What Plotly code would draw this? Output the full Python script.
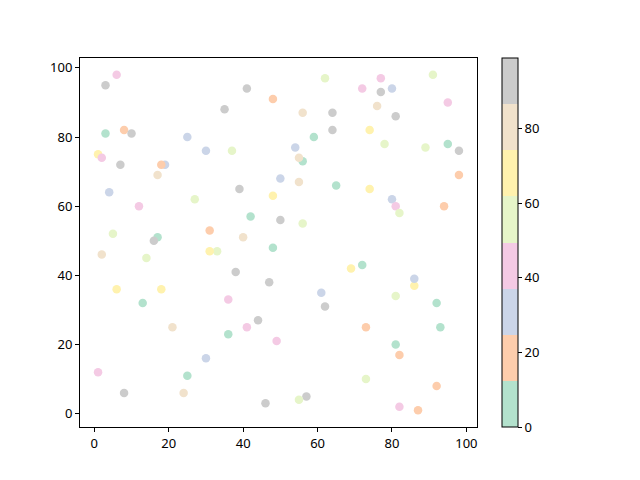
import plotly.graph_objects as go

# data: x, y, colour value (0-99 scale, Pastel2 in 8 bins)
x_vals = [3, 6, 3, 8, 10, 1, 2, 7, 4, 12, 17, 19, 18, 25, 30, 27, 35, 41, 48, 37,
          39, 42, 48, 5, 2, 17, 16, 14, 6, 18, 13, 21, 1, 8, 24, 25, 31, 33, 31, 40,
          38, 36, 36, 41, 44, 47, 48, 49, 30, 46, 50, 50, 54, 56, 55, 55, 56, 59, 56, 62,
          64, 64, 65, 72, 77, 77, 80, 76, 81, 74, 78, 74, 80, 81, 82, 89, 91, 95, 95, 98,
          98, 94, 72, 69, 61, 62, 73, 57, 55, 73, 81, 81, 82, 82, 86, 86, 87, 92, 93, 92]
y_vals = [95, 98, 81, 82, 81, 75, 74, 72, 64, 60, 69, 72, 72, 80, 76, 62, 88, 94, 91, 76,
          65, 57, 63, 52, 46, 51, 50, 45, 36, 36, 32, 25, 12, 6, 6, 11, 53, 47, 47, 51,
          41, 33, 23, 25, 27, 38, 48, 21, 16, 3, 68, 56, 77, 73, 74, 67, 87, 80, 55, 97,
          87, 82, 66, 94, 97, 93, 94, 89, 86, 82, 78, 65, 62, 60, 58, 77, 98, 90, 78, 76,
          69, 60, 43, 42, 35, 31, 25, 5, 4, 10, 34, 20, 17, 2, 37, 39, 1, 32, 25, 8]
c_vals = [93, 43, 6, 18, 93, 68, 43, 93, 31, 43, 80, 31, 18, 31, 31, 56, 93, 93, 18, 56,
          93, 6, 68, 56, 80, 6, 93, 56, 68, 68, 6, 80, 43, 93, 80, 6, 18, 56, 68, 80,
          93, 43, 6, 43, 93, 93, 6, 43, 31, 93, 31, 93, 31, 6, 80, 80, 80, 6, 56, 56,
          93, 93, 6, 43, 43, 93, 31, 80, 93, 68, 56, 68, 31, 43, 56, 56, 56, 43, 6, 93,
          18, 18, 6, 68, 31, 93, 18, 93, 56, 56, 56, 6, 18, 43, 68, 31, 18, 6, 6, 18]

pastel2 = ["#b3e2cd", "#fdcdac", "#cbd5e8", "#f4cae4",
           "#e6f5c9", "#fff2ae", "#f1e2cc", "#cccccc"]
colorscale = []
for i, col in enumerate(pastel2):
    colorscale.append([i / 8, col])
    colorscale.append([(i + 1) / 8, col])

fig = go.Figure(go.Scatter(
    x=x_vals, y=y_vals, mode="markers",
    marker=dict(size=8.5, color=c_vals, colorscale=colorscale, cmin=0, cmax=99,
                line=dict(width=0),
                colorbar=dict(x=1.063, xanchor="left", xpad=0, ypad=0, y=0.5, yanchor="middle",
                              len=1, lenmode="fraction", thickness=16,
                              outlinewidth=1, outlinecolor="black",
                              tickvals=[0, 20, 40, 60, 80], ticks="outside", ticklen=4,
                              tickcolor="black", tickfont=dict(size=13, color="black"))),
    showlegend=False,
))

axis_common = dict(showgrid=False, zeroline=False, showline=True, mirror=True,
                   linecolor="black", linewidth=1, ticks="outside", ticklen=4,
                   tickcolor="black", tickfont=dict(size=13, color="black"))
fig.update_xaxes(range=[-3.85, 102.85], tickvals=[0, 20, 40, 60, 80, 100], **axis_common)
fig.update_yaxes(range=[-3.85, 102.85], tickvals=[0, 20, 40, 60, 80, 100], **axis_common)

fig.update_layout(width=640, height=480, plot_bgcolor="white", paper_bgcolor="white",
                  margin=dict(l=80, r=163, t=58, b=53),
                  font=dict(family="Noto Sans", color="black"))
fig.write_html("out.html", post_script="document.body.style.margin='0';",
               config={"displayModeBar": False})
